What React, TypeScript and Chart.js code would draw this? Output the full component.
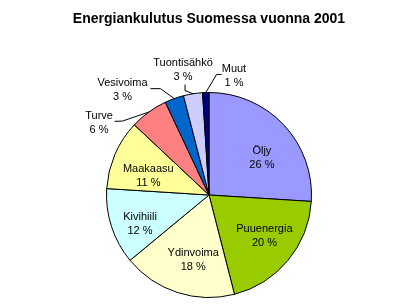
import React, { useEffect, useRef } from "react";
import { Chart, registerables } from "chart.js";

Chart.register(...registerables);

const title = "Energiankulutus Suomessa vuonna 2001";
const categories = ["Öljy", "Puuenergia", "Ydinvoima", "Kivihiili", "Maakaasu", "Turve", "Vesivoima", "Tuontisähkö", "Muut"];
const shares = [26, 20, 18, 12, 11, 6, 3, 3, 1];
const colors = ["#9999FF", "#99CC00", "#FFFFCC", "#CCFFFF", "#FFFF99", "#FF8080", "#0066CC", "#CCCCFF", "#000080"];

// label layout (angle in degrees clockwise from top, distance as fraction of radius)
type Place = { angle: number; dist: number; anchor?: [number, number]; elbow?: [number, number] };
const placements: Place[] = [
  { angle: 55, dist: 0.63 },
  { angle: 126.2, dist: 0.67 },
  { angle: 193.7, dist: 0.65 },
  { angle: 247.2, dist: 0.73 },
  { angle: 287.3, dist: 0.62 },
  { angle: 303.1, dist: 1.28, anchor: [15.5, -2], elbow: [23.5, -2.3] },
  { angle: 320.6, dist: 1.33, anchor: [28, -1], elbow: [38, -1] },
  { angle: 348.3, dist: 1.25, anchor: [2, 15], elbow: [2, 21] },
  { angle: 11.8, dist: 1.19, anchor: [-12.3, -1.2], elbow: [-17.3, -1.2] },
];

const labelPlugin = {
  id: "pieLabels",
  afterDraw(chart: any) {
    const ctx = chart.ctx as CanvasRenderingContext2D;
    const meta = chart.getDatasetMeta(0);
    ctx.save();
    // title
    ctx.fillStyle = "#000";
    ctx.font = "bold 14px 'Liberation Sans', Arial, sans-serif";
    ctx.textAlign = "center";
    ctx.textBaseline = "alphabetic";
    ctx.fillText(title, chart.width / 2, 23);

    ctx.font = "11px 'Liberation Sans', Arial, sans-serif";
    ctx.textBaseline = "middle";
    ctx.strokeStyle = "#000";
    ctx.lineWidth = 1;
    meta.data.forEach((arc: any, i: number) => {
      const p = arc.getProps(["x", "y", "startAngle", "endAngle", "outerRadius"], true);
      const r = p.outerRadius;
      const place = placements[i];
      const a = (place.angle * Math.PI) / 180;
      const cx = p.x + Math.sin(a) * r * place.dist;
      const cy = p.y - Math.cos(a) * r * place.dist;
      ctx.fillStyle = "#000";
      ctx.fillText(categories[i], cx, cy - 7);
      ctx.fillText(shares[i] + " %", cx, cy + 7);
      if (place.anchor && place.elbow) {
        const mid = (p.startAngle + p.endAngle) / 2;
        const ex = p.x + Math.cos(mid) * r;
        const ey = p.y + Math.sin(mid) * r;
        ctx.beginPath();
        ctx.moveTo(cx + place.anchor[0], cy + place.anchor[1]);
        ctx.lineTo(cx + place.elbow[0], cy + place.elbow[1]);
        ctx.lineTo(ex, ey);
        ctx.stroke();
      }
    });
    ctx.restore();
  },
};

export default function App() {
  const ref = useRef<HTMLCanvasElement>(null);
  useEffect(() => {
    if (!ref.current) return;
    const chart = new Chart(ref.current, {
      type: "pie",
      data: {
        labels: categories,
        datasets: [
          {
            data: shares,
            backgroundColor: colors,
            borderColor: "#000",
            borderWidth: 1,
          },
        ],
      },
      options: {
        responsive: false,
        animation: false,
        layout: { padding: { left: 106, right: 106, top: 92, bottom: 7 } },
        plugins: {
          legend: { display: false },
          tooltip: { enabled: false },
          title: { display: false },
        },
      },
      plugins: [labelPlugin],
    });
    return () => chart.destroy();
  }, []);
  return (
    <div style={{ position: "fixed", left: 0, top: 0, width: 418, height: 305, background: "#fff" }}>
      <canvas ref={ref} width={418} height={305} style={{ display: "block", width: 418, height: 305 }} />
    </div>
  );
}
